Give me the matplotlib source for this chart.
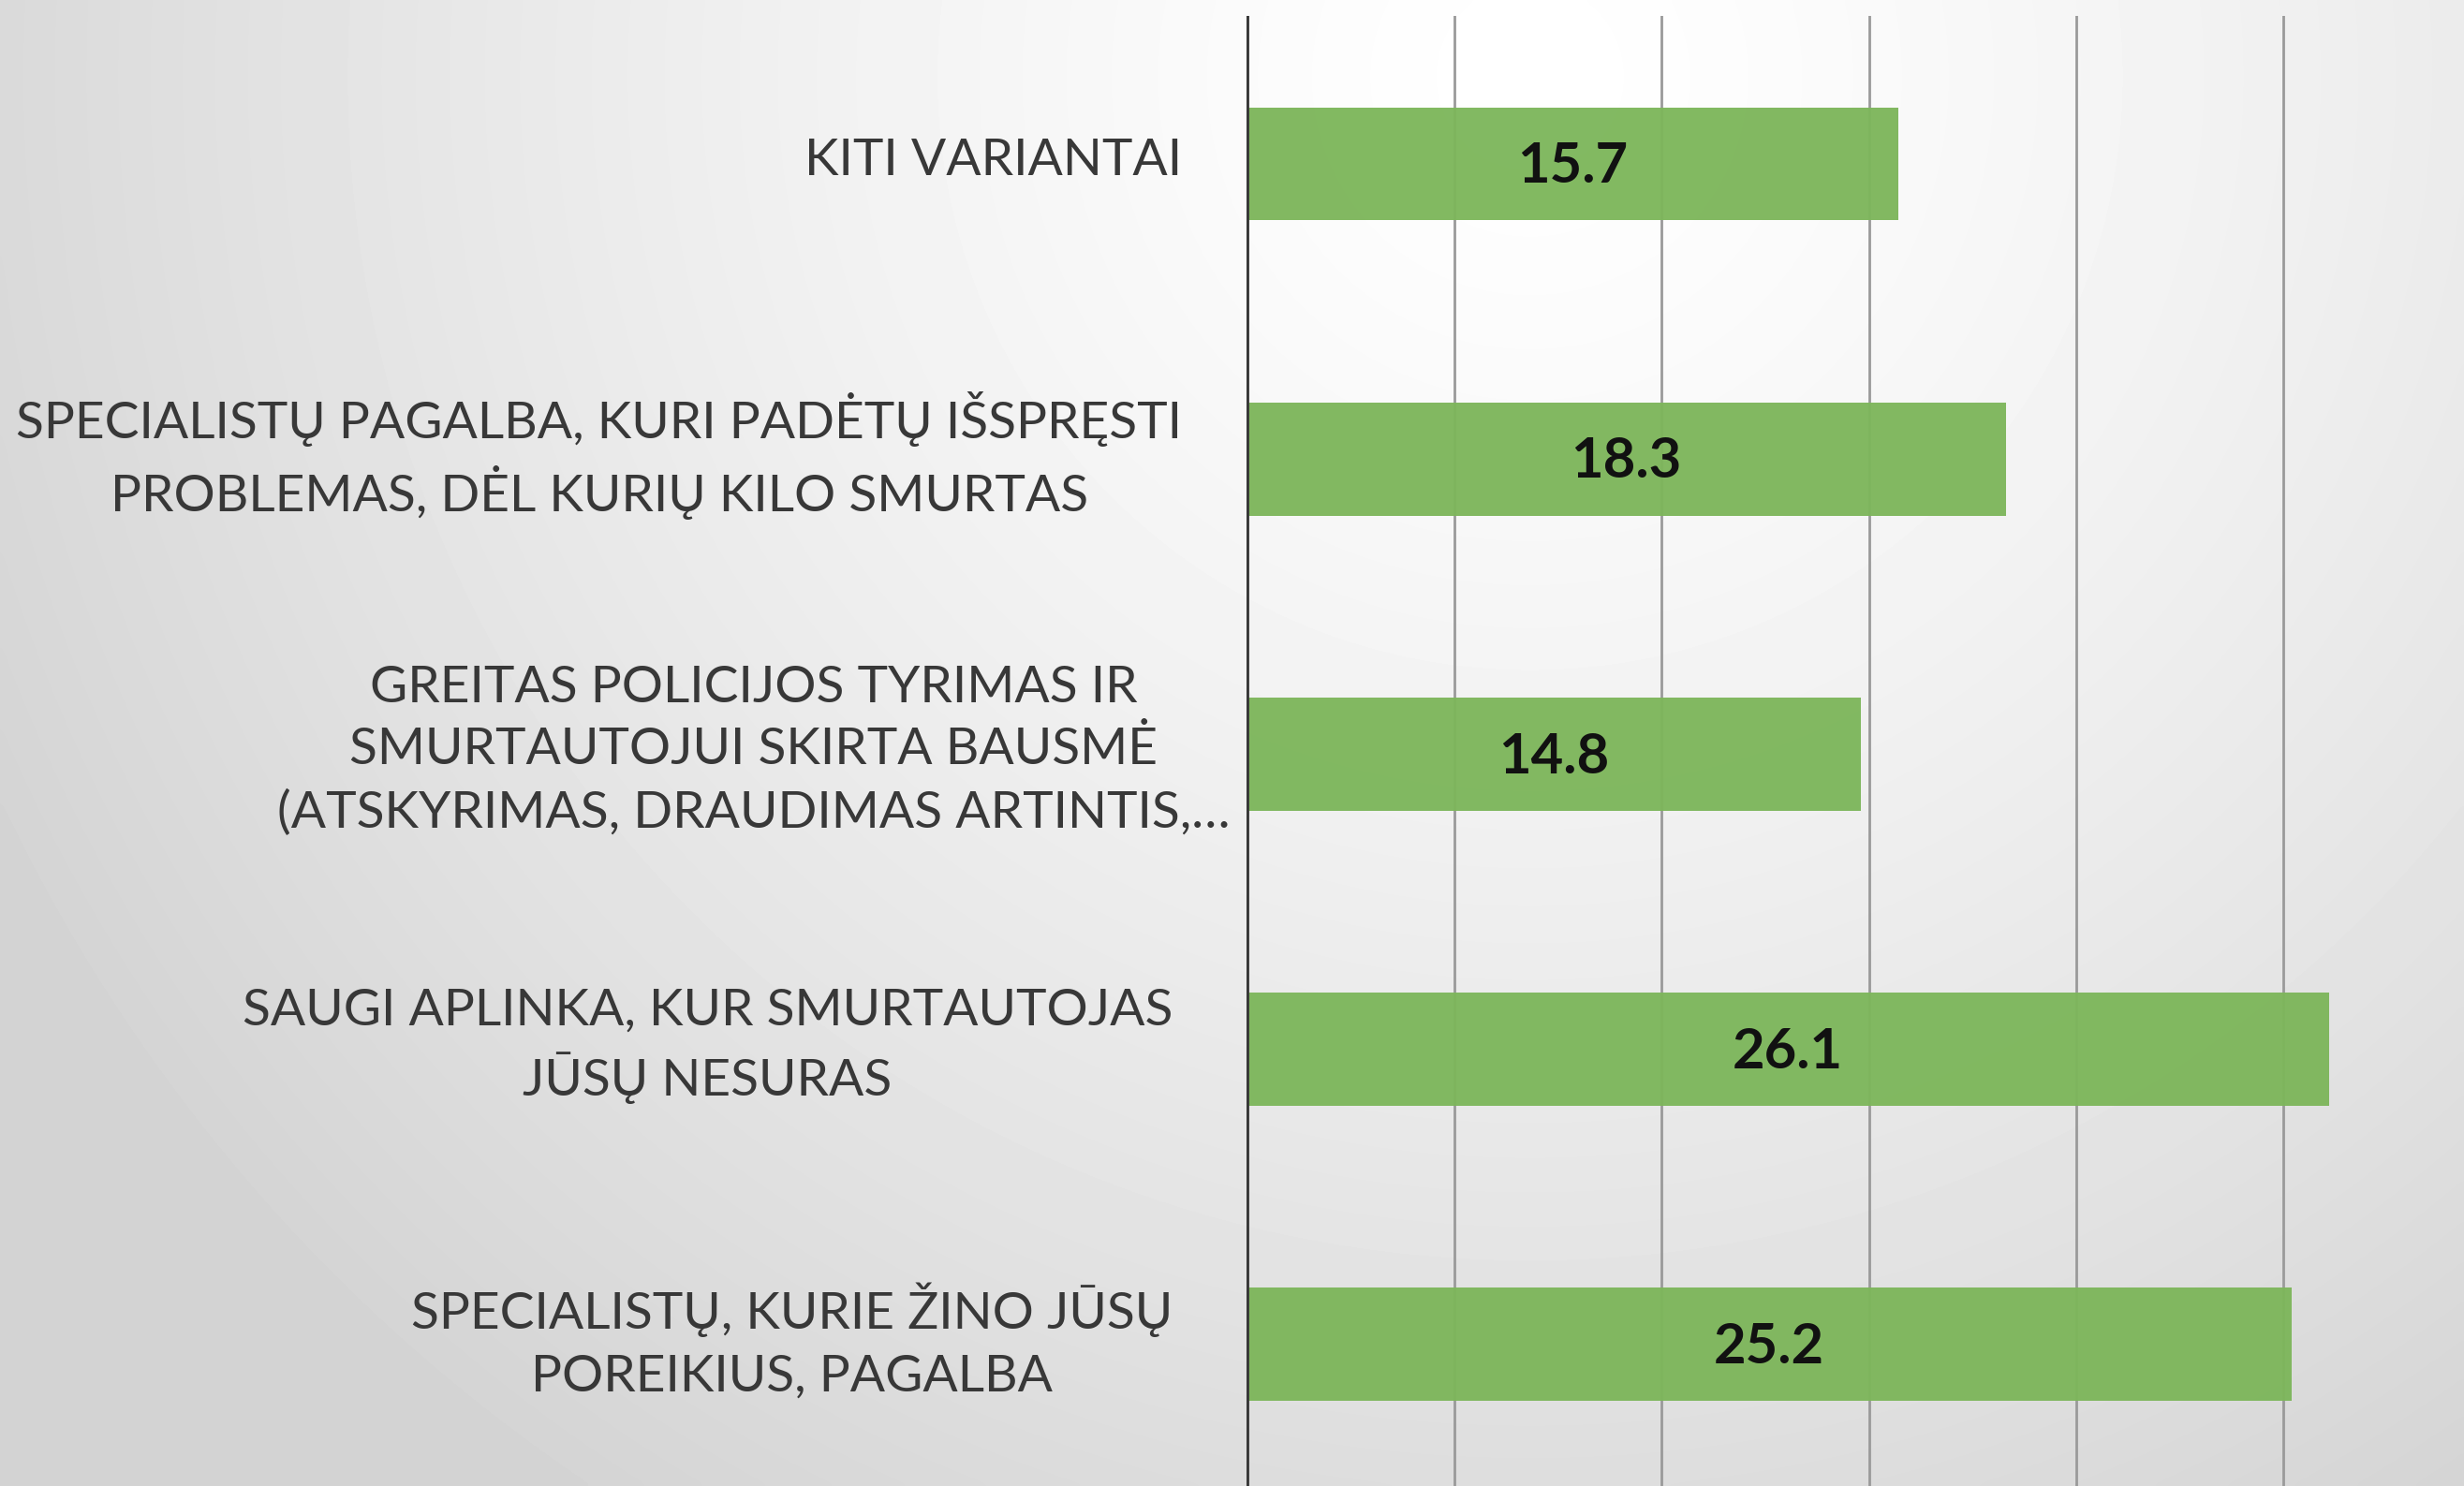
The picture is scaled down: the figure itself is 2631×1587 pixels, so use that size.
import numpy as np
import matplotlib.pyplot as plt

# Datos (de abajo hacia arriba)
categorias = [
    "SPECIALISTŲ, KURIE ŽINO JŪSŲ\nPOREIKIUS, PAGALBA",
    "SAUGI APLINKA, KUR SMURTAUTOJAS\nJŪSŲ NESURAS",
    "GREITAS POLICIJOS TYRIMAS IR\nSMURTAUTOJUI SKIRTA BAUSMĖ\n(ATSKYRIMAS, DRAUDIMAS ARTINTIS,…",
    "SPECIALISTŲ PAGALBA, KURI PADĖTŲ IŠSPRĘSTI\nPROBLEMAS, DĖL KURIŲ KILO SMURTAS",
    "KITI VARIANTAI",
]
valores = [25.2, 26.1, 14.8, 18.3, 15.7]
grid_ticks = [5, 10, 15, 20, 25]

plt.rcParams['font.family'] = ['Lato', 'DejaVu Sans']

fig = plt.figure(figsize=(26.31, 15.87), dpi=100)

# Fondo con degradado radial
bg = fig.add_axes([0, 0, 1, 1], zorder=0)
h, w = 300, 500
yy, xx = np.mgrid[0:h, 0:w]
r = np.hypot((xx / w - 0.62) * 1.66, (yy / h - 0.05))
gris = 1.0 - 0.17 * np.clip(r / 1.15, 0, 1) ** 1.3
bg.imshow(gris, cmap='gray', vmin=0, vmax=1, aspect='auto', interpolation='bicubic')
bg.axis('off')

# Grafica principal
ax = fig.add_axes([0.506, -0.004, 0.494, 0.993], zorder=1)
ax.patch.set_alpha(0)
y = np.arange(len(categorias))
ax.barh(y, valores, height=0.383, color='#7db65b', alpha=0.96, zorder=3)

for v in grid_ticks:
    ax.axvline(v, color='#9a9a9a', linewidth=2, zorder=2)
ax.axvline(0, color='#383838', linewidth=3.5, zorder=4)

ax.set_xlim(0, 29.35)
ax.set_ylim(-0.5, 4.5)
for s in ax.spines.values():
    s.set_visible(False)
ax.set_xticks([])
ax.set_yticks([])

# Etiquetas de valor
for yi, v in zip(y, valores):
    ax.text(v / 2, yi - 0.01, f"{v:.1f}", ha='center', va='center',
            fontsize=43, fontweight='bold', color='#111111', zorder=5)

# Etiquetas de categoria (centradas, alineadas a la derecha del eje)
offsets = [-0.061, -0.061, -0.014, -0.053, -0.053]
for yi, lab, off in zip(y, categorias, offsets):
    ax.text(off, yi + 0.012, lab, transform=ax.get_yaxis_transform(),
            ha='right', va='center', multialignment='center',
            fontsize=39.7, color='#383838', linespacing=1.42)

fig.savefig('out.png', dpi=100)
